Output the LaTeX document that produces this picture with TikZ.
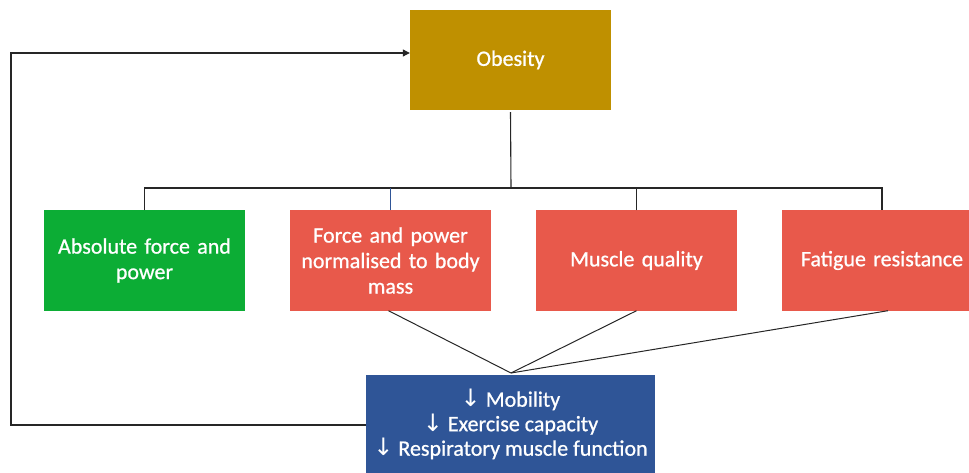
\documentclass[tikz,border=0pt]{standalone}
\usepackage{fontspec}
\setmainfont{Carlito}[BoldFont=Carlito,BoldFeatures={FakeBold=0.8}]
\newfontfamily\symfont{DejaVu Sans}
\usetikzlibrary{arrows.meta}
\definecolor{obes}{HTML}{BF9000}
\definecolor{grn}{HTML}{0CAD35}
\definecolor{rd}{HTML}{E8594B}
\definecolor{blu}{HTML}{2F5597}
\newcommand{\dn}{{\symfont\mdseries\fontsize{24}{24}\selectfont ↓}}
\begin{document}
\begin{tikzpicture}[x=1pt,y=-1pt,
  box/.style={draw=none,minimum width=201pt,minimum height=100pt,text=white,align=center,font=\fontsize{22}{25.5}\selectfont\bfseries,inner sep=2pt},
  conn/.style={draw=black!85,line width=1.1pt}]
\useasboundingbox (0,0) rectangle (969,473);
\node[box,fill=obes] (ob) at (510.5,60) {Obesity};
\node[box,fill=grn,text width=197pt] (b1) at (144.5,260.5) {Absolute force and\\power};
\node[box,fill=rd,text width=197pt] (b2) at (390.5,260.5) {Force and power\\normalised to body\\mass};
\node[box,fill=rd,text width=197pt] (b3) at (636.5,260.5) {Muscle quality};
\node[box,fill=rd,text width=197pt] (b4) at (882,260.5) {Fatigue resistance};
\node[box,fill=blu,minimum width=289pt,minimum height=98pt,anchor=north,font=\fontsize{22}{24.5}\selectfont\bfseries] (mb) at (510.5,375) {\dn\ Mobility\\\dn\ Exercise capacity\\\dn\ Respiratory muscle function};
\coordinate (bar) at (511,188);
\coordinate (cv) at (511,373);
\coordinate (lt) at (11,53);
\coordinate (lb) at (11,425);
\draw[conn] (ob.south) ++(0,2) -- (bar);
\draw[conn] (b1.north) -- (b1.north |- bar) -- (b4.north |- bar) -- (b4.north);
\draw[conn] (b3.north) -- (b3.north |- bar);
\draw[line width=1pt,draw=blu] (b2.north) -- (b2.north |- bar);
\draw[conn,line width=1pt] ([xshift=-2pt]b2.south) -- (cv);
\draw[conn,line width=1pt] (b3.south) -- (cv);
\draw[conn,line width=1pt] ([xshift=6pt]b4.south) -- (cv);
\draw[conn,-{Triangle[length=7pt,width=7pt]}] (mb.west |- lb) -- (lb) -- (lt) -- (ob.west |- lt);
\end{tikzpicture}
\end{document}
